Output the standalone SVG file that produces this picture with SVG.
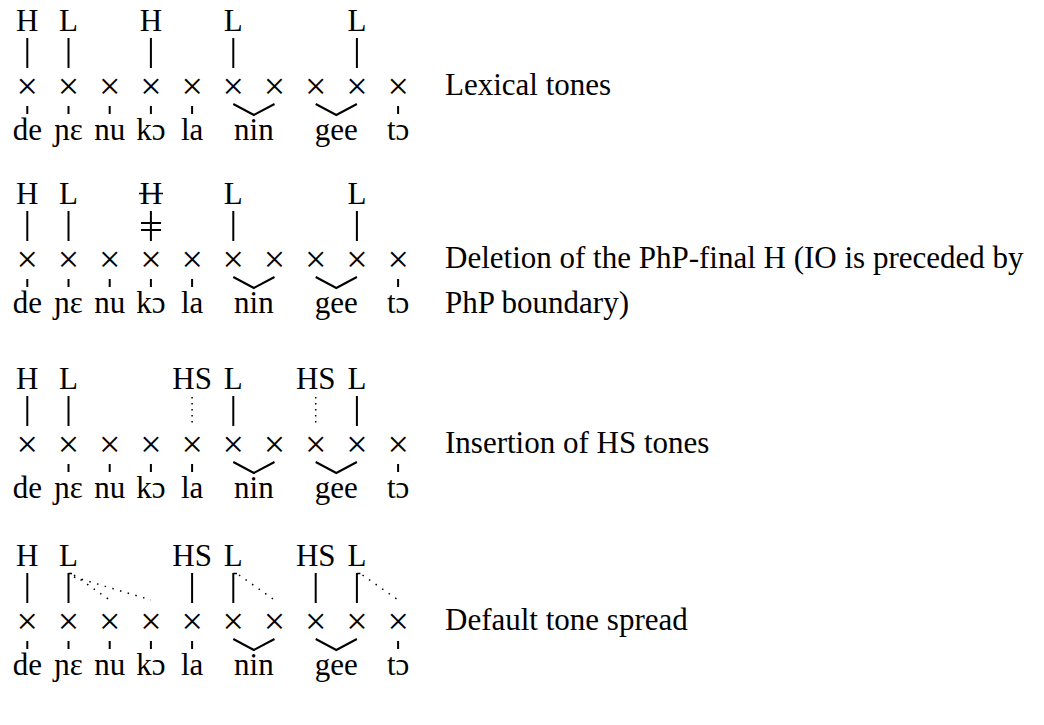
<svg xmlns="http://www.w3.org/2000/svg" width="1044" height="725" viewBox="0 0 1044 725">
<style>
text{font-family:"Liberation Serif","Times New Roman",serif;font-size:31px;fill:#000}
.m{text-anchor:middle}
.x{font-size:38px}
.bar{stroke:#000;stroke-width:2;fill:none}
.tick{stroke:#000;stroke-width:2;fill:none}
.br{stroke:#000;stroke-width:2;fill:none}
.dot{stroke:#000;stroke-width:1.5;fill:none;stroke-dasharray:1.5 4.5}
.dot2{stroke:#000;stroke-width:1.5;fill:none;stroke-dasharray:1.5 6.5}
</style>
<defs>
<g id="slots">
<text class="m x" x="27.3" y="11.8">×</text><text class="m x" x="68.5" y="11.8">×</text><text class="m x" x="109.7" y="11.8">×</text><text class="m x" x="150.9" y="11.8">×</text><text class="m x" x="192.1" y="11.8">×</text><text class="m x" x="233.3" y="11.8">×</text><text class="m x" x="274.5" y="11.8">×</text><text class="m x" x="315.7" y="11.8">×</text><text class="m x" x="356.9" y="11.8">×</text><text class="m x" x="398.1" y="11.8">×</text>
</g>
<g id="syl">
<text class="m" x="27.3" y="53">de</text><text class="m" x="68.5" y="53">ɲɛ</text><text class="m" x="109.7" y="53">nu</text><text class="m" x="150.9" y="53">kɔ</text><text class="m" x="192.1" y="53">la</text><text class="m" x="253.9" y="53">nin</text><text class="m" x="336.3" y="53">gee</text><text class="m" x="398.1" y="53">tɔ</text>
</g>
<path id="brk" class="br" d="M233.3 17 L253.9 28 L274.5 17 M315.7 17 L336.3 28 L356.9 17"/>
<path id="ticksAll" class="tick" d="M27.3 19V27M68.5 19V27M109.7 19V27M150.9 19V27M192.1 19V27M398.1 19V27"/>
<path id="ticksNo0" class="tick" d="M68.5 19V27M109.7 19V27M150.9 19V27M192.1 19V27M398.1 19V27"/>
</defs>

<!-- Row 1: Lexical tones -->
<g id="row1" transform="translate(0,87)">
<g id="r1-tones"><text class="m" x="27.3" y="-56">H</text><text class="m" x="68.5" y="-56">L</text><text class="m" x="150.9" y="-56">H</text><text class="m" x="233.3" y="-56">L</text><text class="m" x="356.9" y="-56">L</text></g>
<g id="r1-slots"><use href="#slots"/></g>
<g id="r1-syllables"><use href="#syl"/></g>
<g id="r1-connectors"><path class="bar" d="M27.3 -49V-19M68.5 -49V-19M150.9 -49V-19M233.3 -49V-19M356.9 -49V-19"/><use href="#ticksAll"/><use href="#brk"/></g>
<g id="r1-label"><text x="445" y="8">Lexical tones</text></g>
</g>

<!-- Row 2: Deletion -->
<g id="row2" transform="translate(0,260)">
<g id="r2-tones"><text class="m" x="27.3" y="-56">H</text><text class="m" x="68.5" y="-56">L</text><text class="m" x="150.9" y="-56">H</text><line class="bar" x1="139" y1="-66.5" x2="163" y2="-66.5" style="stroke-width:1.5"/><text class="m" x="233.3" y="-56">L</text><text class="m" x="356.9" y="-56">L</text></g>
<g id="r2-slots"><use href="#slots"/></g>
<g id="r2-syllables"><use href="#syl"/></g>
<g id="r2-connectors"><path class="bar" d="M27.3 -49V-19M68.5 -49V-19M150.9 -49V-19M233.3 -49V-19M356.9 -49V-19"/><path class="bar" d="M141 -37H161M141 -30H161"/><use href="#ticksAll"/><use href="#brk"/></g>
<g id="r2-label"><text x="445" y="8">Deletion of the PhP-final H (IO is preceded by</text><text x="445" y="53">PhP boundary)</text></g>
</g>

<!-- Row 3: Insertion of HS -->
<g id="row3" transform="translate(0,445)">
<g id="r3-tones"><text class="m" x="27.3" y="-56">H</text><text class="m" x="68.5" y="-56">L</text><text class="m" x="192.1" y="-56">HS</text><text class="m" x="233.3" y="-56">L</text><text class="m" x="315.7" y="-56">HS</text><text class="m" x="356.9" y="-56">L</text></g>
<g id="r3-slots"><use href="#slots"/></g>
<g id="r3-syllables"><use href="#syl"/></g>
<g id="r3-connectors"><path class="bar" d="M27.3 -49V-19M68.5 -49V-19M233.3 -49V-19M356.9 -49V-19"/><path class="dot" d="M192.1 -48V-19M315.7 -48V-19"/><use href="#ticksNo0"/><use href="#brk"/></g>
<g id="r3-label"><text x="445" y="8">Insertion of HS tones</text></g>
</g>

<!-- Row 4: Default tone spread -->
<g id="row4" transform="translate(0,622)">
<g id="r4-tones"><text class="m" x="27.3" y="-56">H</text><text class="m" x="68.5" y="-56">L</text><text class="m" x="192.1" y="-56">HS</text><text class="m" x="233.3" y="-56">L</text><text class="m" x="315.7" y="-56">HS</text><text class="m" x="356.9" y="-56">L</text></g>
<g id="r4-slots"><use href="#slots"/></g>
<g id="r4-syllables"><use href="#syl"/></g>
<g id="r4-connectors"><path class="bar" d="M27.3 -49V-19M68.5 -49V-19M192.1 -49V-19M233.3 -49V-19M315.7 -49V-19M356.9 -49V-19"/><path class="bar" style="stroke-width:1.5" d="M68.5 -48.5H72M233.3 -48.5H237M356.9 -48.5H360.4"/><path class="dot2" d="M74 -47L109.7 -22M74 -45L150.9 -22M239 -47L274.5 -22M362.5 -47L398.1 -22"/><use href="#ticksAll"/><use href="#brk"/></g>
<g id="r4-label"><text x="445" y="8">Default tone spread</text></g>
</g>
</svg>
